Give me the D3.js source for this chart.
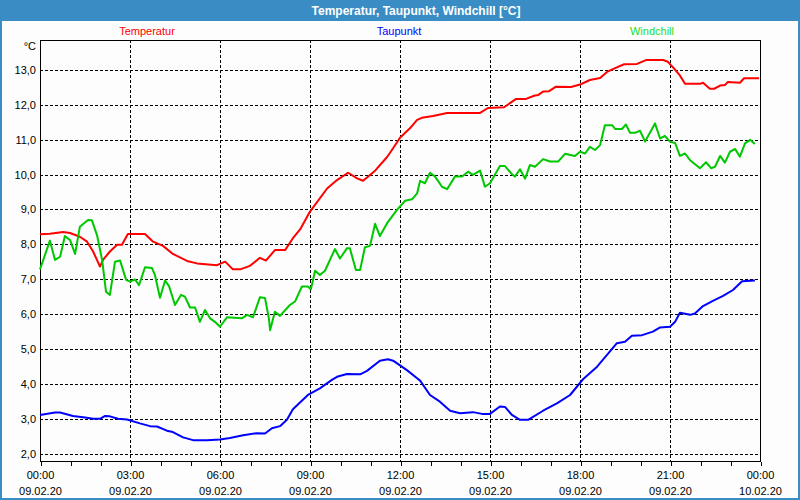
<!DOCTYPE html>
<meta charset="utf-8">
<style>
  body { margin: 0; background: #fff; }
  text { font-family: "Liberation Sans", Arial, sans-serif; }
  .grid line { stroke: #000; stroke-dasharray: 3,2; shape-rendering: crispEdges; }
  .series { fill: none; stroke-width: 2; stroke-linejoin: round; }
</style>
<svg width="800" height="500"></svg>
<script src="https://cdn.jsdelivr.net/npm/d3@7/dist/d3.min.js"></script>
<script>
// hours since 09.02.20 00:00 and degrees C
var tempHours = [0,0.33,0.77,1.0,1.33,1.57,1.77,2.0,2.1,2.33,2.57,2.73,2.93,3.5,3.77,4.1,4.43,4.9,5.23,5.9,6.17,6.43,6.67,7.0,7.33,7.53,7.83,8.17,8.43,8.67,9.0,9.57,9.9,10.27,10.57,10.77,11.17,11.57,11.77,12.0,12.33,12.57,12.73,13.1,13.57,14.67,14.93,15.47,15.87,16.2,16.47,16.6,16.77,16.97,17.2,17.7,18.0,18.33,18.67,18.9,19.17,19.47,19.9,20.2,20.77,20.93,21.13,21.33,21.5,22.0,22.1,22.33,22.47,22.67,22.83,22.93,23.33,23.47,23.97];
var tempValues = [8.29,8.31,8.36,8.33,8.22,8.08,7.8,7.37,7.56,7.8,7.99,7.99,8.3,8.3,8.08,7.96,7.73,7.53,7.46,7.41,7.51,7.29,7.29,7.39,7.62,7.54,7.84,7.84,8.18,8.43,8.94,9.6,9.84,10.05,9.89,9.82,10.11,10.5,10.75,11.05,11.32,11.56,11.62,11.67,11.76,11.76,11.9,11.92,12.16,12.16,12.25,12.27,12.37,12.38,12.51,12.5,12.57,12.7,12.76,12.93,13.04,13.15,13.16,13.27,13.27,13.22,13.03,12.83,12.59,12.59,12.62,12.45,12.45,12.54,12.56,12.64,12.62,12.75,12.75];

var dewHours = [0,0.5,0.67,1.1,1.5,1.77,2.0,2.17,2.33,2.6,2.9,3.33,3.67,3.9,4.23,4.43,4.77,5.1,5.57,6.0,6.33,6.77,7.23,7.5,7.73,8.0,8.23,8.43,8.93,9.33,9.73,9.9,10.23,10.67,10.9,11.33,11.6,11.77,12.23,12.57,12.67,13.0,13.33,13.67,14.0,14.43,14.73,15.0,15.33,15.5,15.73,16.0,16.27,16.77,17.23,17.67,18.1,18.57,19.23,19.5,19.73,20.07,20.43,20.67,21.0,21.17,21.33,21.67,21.83,22.1,22.43,22.77,23.1,23.4,23.83];
var dewValues = [3.13,3.2,3.2,3.1,3.06,3.02,3.02,3.1,3.09,3.02,3.0,2.89,2.81,2.8,2.68,2.64,2.49,2.41,2.41,2.43,2.47,2.55,2.61,2.6,2.75,2.81,2.99,3.29,3.7,3.89,4.13,4.22,4.3,4.29,4.39,4.68,4.72,4.68,4.41,4.18,4.11,3.7,3.51,3.25,3.18,3.21,3.16,3.16,3.37,3.36,3.13,2.99,2.99,3.25,3.46,3.7,4.15,4.51,5.18,5.22,5.39,5.41,5.51,5.63,5.65,5.79,6.05,5.99,6.03,6.24,6.39,6.53,6.7,6.95,6.97];

var chillHours = [0,0.33,0.5,0.67,0.83,1.0,1.17,1.33,1.6,1.73,1.9,2.07,2.2,2.33,2.5,2.67,2.87,3.0,3.17,3.3,3.5,3.73,3.83,4.0,4.17,4.3,4.5,4.7,4.83,5.0,5.17,5.33,5.5,5.67,5.83,6.0,6.23,6.73,6.9,7.1,7.33,7.5,7.63,7.67,7.83,8.0,8.33,8.5,8.73,8.93,9.03,9.17,9.33,9.5,9.83,10.0,10.23,10.33,10.53,10.67,10.83,11.0,11.17,11.33,11.57,11.9,12.17,12.4,12.57,12.67,12.83,13.0,13.17,13.4,13.57,13.83,14.07,14.27,14.43,14.67,14.83,15.0,15.33,15.5,15.73,15.83,16.0,16.17,16.33,16.5,16.77,17.0,17.27,17.5,17.83,18.0,18.17,18.33,18.5,18.67,18.83,19.07,19.17,19.4,19.53,19.67,19.83,20.0,20.17,20.33,20.5,20.67,20.83,21.0,21.17,21.33,21.5,21.67,22.0,22.2,22.37,22.5,22.67,22.83,23.0,23.17,23.33,23.5,23.67,23.83];
var chillValues = [7.29,8.11,7.56,7.65,8.24,8.13,7.73,8.51,8.7,8.69,8.27,7.56,6.65,6.56,7.51,7.54,6.99,6.94,7.0,6.84,7.35,7.33,7.13,6.48,6.97,6.81,6.27,6.56,6.51,6.2,6.2,5.79,6.13,5.89,5.79,5.65,5.92,5.89,5.99,5.92,6.49,6.47,5.89,5.55,6.08,5.96,6.27,6.37,6.8,6.8,6.72,7.25,7.13,7.25,7.87,7.6,7.89,7.89,7.27,7.27,7.92,7.96,8.59,8.24,8.61,8.99,9.25,9.29,9.46,9.82,9.75,10.05,9.94,9.65,9.58,9.94,9.94,10.08,9.99,10.11,9.65,9.75,10.24,10.24,10.01,9.94,10.15,9.88,10.27,10.22,10.44,10.37,10.37,10.59,10.53,10.65,10.6,10.79,10.7,10.84,11.41,11.41,11.3,11.3,11.43,11.19,11.19,11.25,10.94,11.19,11.46,11.03,11.1,10.94,10.9,10.53,10.6,10.41,10.18,10.35,10.18,10.22,10.53,10.34,10.65,10.73,10.51,10.89,10.99,10.87];

var seriesNames = ["Temperatur", "Taupunkt", "Windchill"];
var seriesColors = ["#ff0000", "#0000ff", "#00c800"];
var legendColors = ["#ff0000", "#0000ff", "#22dd22"];
var yTicks = [2,3,4,5,6,7,8,9,10,11,12,13];
var xTimeLabels = ["00:00","03:00","06:00","09:00","12:00","15:00","18:00","21:00","00:00"];
var xDateLabels = ["09.02.20","09.02.20","09.02.20","09.02.20","09.02.20","09.02.20","09.02.20","09.02.20","10.02.20"];

var svg = d3.select("svg"),
  width = +svg.attr("width"),
  height = +svg.attr("height");
var frame = "#3a8dc4";
// plot box (window.top is read-only, so no "top" here)
var pLeft = 40, pRight = 760, pTop = 40, pBottom = 461;

// window frame + title bar
svg.append("rect").attr("x", 0).attr("y", 0).attr("width", width).attr("height", height).attr("fill", frame);
svg.append("rect").attr("x", 2).attr("y", 21).attr("width", width - 4).attr("height", height - 23).attr("fill", "#fcfdfc");
svg.append("text").attr("x", 416).attr("y", 14.5).attr("text-anchor", "middle")
  .attr("fill", "#fff").attr("font-weight", "bold").attr("font-size", "12px")
  .text("Temperatur, Taupunkt, Windchill [°C]");

var x = d3.scaleLinear().domain([0, 24]).range([pLeft, pRight]);
var y = d3.scaleLinear().domain([1.814, 13.843]).range([pBottom, pTop]);

// grid
var grid = svg.append("g").attr("class", "grid");
grid.selectAll(".h").data(yTicks).enter().append("line")
  .attr("x1", pLeft).attr("x2", pRight)
  .attr("y1", function(d) { return Math.round(y(d)) + 0.5; })
  .attr("y2", function(d) { return Math.round(y(d)) + 0.5; });
grid.selectAll(".v").data(d3.range(3, 24, 3)).enter().append("line")
  .attr("y1", pTop).attr("y2", pBottom)
  .attr("x1", function(d) { return Math.round(x(d)) + 0.5; })
  .attr("x2", function(d) { return Math.round(x(d)) + 0.5; });

// plot box
svg.append("rect").attr("x", pLeft + 0.5).attr("y", pTop + 0.5)
  .attr("width", pRight - pLeft).attr("height", pBottom - pTop)
  .attr("fill", "none").attr("stroke", "#000").attr("shape-rendering", "crispEdges");

// x axis ticks (hourly) and labels
var xAxis = d3.axisBottom(x).tickValues(d3.range(0, 25, 1)).tickSize(4).tickFormat("");
var gx = svg.append("g").attr("transform", "translate(0.5," + (pBottom + 0.5) + ")").call(xAxis);
gx.select(".domain").remove();
gx.selectAll("line").attr("stroke", "#000").attr("shape-rendering", "crispEdges");

var xl = svg.append("g").attr("font-size", "11px").attr("fill", "#000").attr("text-anchor", "middle");
xl.selectAll(".t").data(xTimeLabels).enter().append("text")
  .attr("x", function(d, i) { return x(i * 3) + 0.5; }).attr("y", 479).text(function(d) { return d; });
xl.selectAll(".d").data(xDateLabels).enter().append("text")
  .attr("x", function(d, i) { return x(i * 3) + 0.5; }).attr("y", 495).text(function(d) { return d; });

// y labels
var yl = svg.append("g").attr("font-size", "11px").attr("fill", "#000").attr("text-anchor", "end");
yl.selectAll("text").data(yTicks).enter().append("text")
  .attr("x", 36).attr("y", function(d) { return y(d) + 4; })
  .text(function(d) { return d3.format(".1f")(d).replace(".", ","); });
yl.append("text").attr("x", 36).attr("y", 50).text("°C");

// series
var data = [
  d3.zip(tempHours, tempValues),
  d3.zip(dewHours, dewValues),
  d3.zip(chillHours, chillValues)
];
var line = d3.line().x(function(d) { return x(d[0]); }).y(function(d) { return y(d[1]); });
svg.selectAll(".series").data(data).enter().append("path")
  .attr("class", "series")
  .attr("stroke", function(d, i) { return seriesColors[i]; })
  .attr("d", line);

// legend
var legendX = [147, 399, 652];
svg.selectAll(".legend").data(seriesNames).enter().append("text")
  .attr("x", function(d, i) { return legendX[i]; }).attr("y", 35)
  .attr("text-anchor", "middle").attr("font-size", "11px")
  .attr("fill", function(d, i) { return legendColors[i]; })
  .text(function(d) { return d; });
</script>
